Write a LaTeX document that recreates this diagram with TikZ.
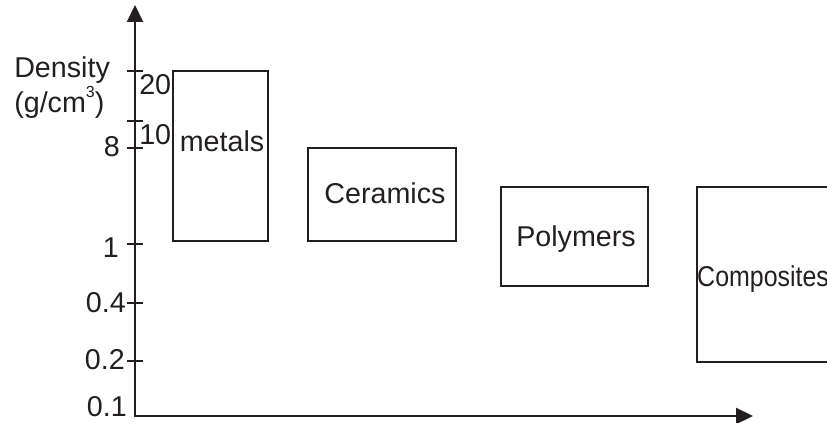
\documentclass[tikz,border=0pt]{standalone}
\usepackage{fontspec}
\setmainfont{Liberation Sans}
\usetikzlibrary{arrows.meta}
\definecolor{ink}{HTML}{231F20}
\begin{document}
\begin{tikzpicture}[x=0.75pt,y=0.75pt,yscale=-1,
  lbl/.style={inner sep=0pt,color=ink,font=\fontsize{21.5}{26}\selectfont},
  axisline/.style={color=ink,line width=1.6pt,-{Triangle[length=12.75pt,width=12pt]}},
  tickmark/.style={color=ink,line width=1.6pt},
  matbox/.style={color=ink,line width=1.7pt}]
\clip (0,0) rectangle (827,423);

%Shape: Axis 2D
\draw [axisline] (135,416) -- (135,5);
\draw [axisline] (134.2,416) -- (753,416);
%Ticks
\foreach \ty in {71,121,148,244,303,361}
  \draw [tickmark] (127,\ty) -- (143,\ty);

%Shape: Rectangle
\draw [matbox] (173,71) rectangle (268,241);
%Shape: Rectangle
\draw [matbox] (308,148) rectangle (456,241);
%Shape: Rectangle
\draw [matbox] (501,187) rectangle (648,286);
%Shape: Rectangle
\draw [matbox] (697,187) rectangle (880,362);

% Text Node
\node [lbl,anchor=base west] (density) at (14,78) {Density};
% Text Node
\node [lbl,anchor=base west] (unit) at (14,113) {(g/cm\raisebox{0.55em}{\fontsize{12}{12}\selectfont 3})};
% Text Node
\node [lbl,anchor=base west] (t20) at (139,95) {20};
% Text Node
\node [lbl,anchor=base west] (t10) at (139,145) {10};
% Text Node
\node [lbl,anchor=base east] (t8) at (120,157) {8};
% Text Node
\node [lbl,anchor=base east] (t1) at (119,258) {1};
% Text Node
\node [lbl,anchor=base east] (t04) at (126,313) {0.4};
% Text Node
\node [lbl,anchor=base east] (t02) at (125,369) {0.2};
% Text Node
\node [lbl,anchor=base east] (t01) at (127,416) {0.1};

% Text Node
\node [lbl,anchor=base] (metals) at (222,152) {metals};
% Text Node
\node [lbl,anchor=base] (ceramics) at (385,204) {Ceramics};
% Text Node
\node [lbl,anchor=base] (polymers) at (576,247) {Polymers};
% Text Node
\node [lbl,anchor=base west,xscale=0.87] (composites) at (697,287) {Composites};

\end{tikzpicture}
\end{document}
